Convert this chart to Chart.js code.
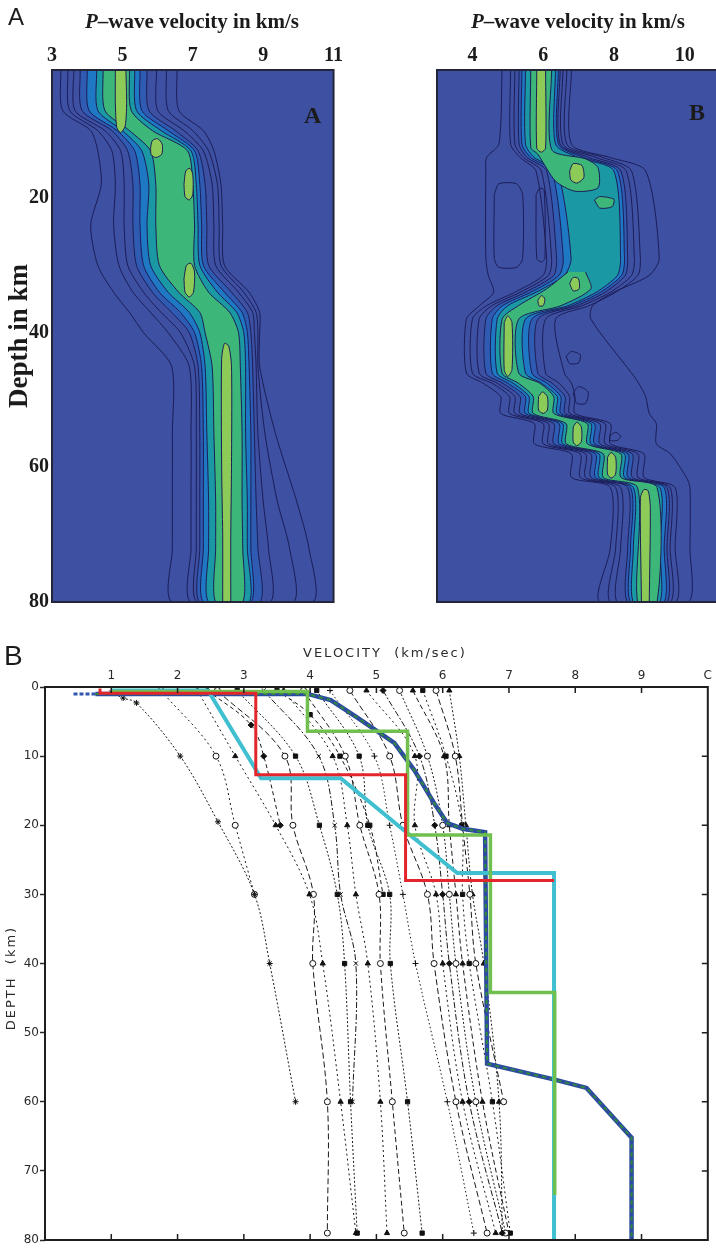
<!DOCTYPE html>
<html>
<head>
<meta charset="utf-8">
<script src="https://cdn.jsdelivr.net/npm/chart.js@4.4.1/dist/chart.umd.min.js"></script>
<style>
  html, body { margin: 0; padding: 0; overflow: hidden; background: #fff; }
  body { position: relative; width: 716px; height: 1249px; }
  canvas { position: absolute; }
  .t { position: absolute; white-space: pre; line-height: 1; color: #1b1b1b; }
  .serif { font-family: 'Liberation Serif', 'Times New Roman', serif; font-weight: bold; }
  .sans { font-family: 'Liberation Sans', Arial, sans-serif; }
  .plot { font-family: 'DejaVu Sans', sans-serif; font-size: 13px; letter-spacing: 2px; color: #2a2a2a; }
</style>
</head>
<body>
<canvas id="ca" width="345" height="617" style="left:0;top:0"></canvas>
<canvas id="cb" width="370" height="610" style="left:360px;top:0"></canvas>
<canvas id="cc" width="716" height="619" style="left:0;top:630px"></canvas>

<div class="t sans" style="left:8px;top:5px;font-size:24px">A</div>
<div class="t serif" style="left:42px;top:11px;width:300px;text-align:center;font-size:21px"><i>P</i>–wave velocity in km/s</div>
<div class="t serif" style="left:428px;top:11px;width:300px;text-align:center;font-size:21px"><i>P</i>–wave velocity in km/s</div>
<div class="t serif" style="left:18px;top:336px;font-size:27px;transform:translate(-50%,-50%) rotate(-90deg)">Depth in km</div>
<div class="t serif" style="left:304px;top:103px;font-size:24px">A</div>
<div class="t serif" style="left:689px;top:100px;font-size:24px">B</div>
<div class="t sans" style="left:4px;top:642px;font-size:28px">B</div>
<div class="t plot" style="left:303px;top:646px">VELOCITY  (km/sec)</div>
<div class="t plot" style="left:10px;top:978px;transform:translate(-50%,-50%) rotate(-90deg)">DEPTH  (km)</div>

<script>
// ---------- panel A : contour levels, velocity (km/s) read at listed depths (km) ----------
const depthA = [1, 7, 10, 13, 18, 24, 30, 34, 37, 40, 45, 55, 65, 72, 80];
const leftA = [
  [3.25, 3.3, 4.1, 4.3, 4.4, 4.1, 4.3, 4.75, 5.2, 5.6, 6.4, 6.42, 6.42, 6.42, 6.42],
  [3.45, 3.5, 4.3, 4.7, 4.8, 4.75, 4.9, 5.3, 5.8, 6.3, 6.9, 6.95, 6.95, 6.95, 6.95],
  [3.62, 3.65, 4.5, 4.95, 5.05, 5.05, 5.15, 5.6, 6.1, 6.65, 7.05, 7.1, 7.1, 7.1, 7.12],
  [3.8, 3.85, 4.7, 5.15, 5.3, 5.3, 5.4, 5.85, 6.4, 6.9, 7.15, 7.2, 7.2, 7.2, 7.2],
  [4.0, 4.05, 4.85, 5.35, 5.5, 5.5, 5.6, 6.05, 6.65, 7.05, 7.25, 7.3, 7.3, 7.3, 7.3],
  [4.27, 4.3, 5.0, 5.55, 5.75, 5.7, 5.8, 6.3, 6.9, 7.2, 7.35, 7.4, 7.45, 7.45, 7.45],
  [4.45, 4.5, 5.2, 5.8, 5.95, 5.95, 6.05, 6.6, 7.2, 7.35, 7.55, 7.6, 7.65, 7.65, 7.65]
];
const rightA = [
  [6.55, 6.6, 7.3, 7.6, 7.8, 7.85, 7.9, 8.6, 8.9, 8.9, 8.9, 9.35, 9.95, 10.3, 10.4],
  [6.25, 6.3, 7.0, 7.45, 7.7, 7.75, 7.8, 8.45, 8.8, 8.85, 8.85, 9.05, 9.4, 9.75, 9.85],
  [5.97, 6.0, 6.75, 7.3, 7.55, 7.6, 7.65, 8.3, 8.7, 8.75, 8.8, 8.85, 9.0, 9.15, 9.2],
  [5.7, 5.75, 6.5, 7.15, 7.35, 7.4, 7.45, 8.1, 8.55, 8.65, 8.7, 8.75, 8.8, 8.85, 8.9],
  [5.5, 5.55, 6.3, 7.05, 7.2, 7.25, 7.3, 7.9, 8.4, 8.55, 8.6, 8.65, 8.65, 8.65, 8.65],
  [5.35, 5.4, 6.1, 6.95, 7.1, 7.15, 7.2, 7.7, 8.25, 8.45, 8.5, 8.5, 8.55, 8.55, 8.6],
  [5.2, 5.25, 5.85, 6.85, 7.0, 7.05, 7.05, 7.45, 8.05, 8.3, 8.35, 8.4, 8.4, 8.42, 8.42]
];
// light green cores [velocity, depth]
const lightA = [
  [[4.8, 1], [4.8, 6], [4.84, 9.5], [4.95, 10.3], [5.08, 9.3], [5.12, 6], [5.1, 1]],
  [[5.8, 12.6], [5.85, 11.5], [6.0, 11.2], [6.13, 12], [6.12, 13.5], [5.95, 14], [5.82, 13.6], [5.8, 12.6]],
  [[6.75, 18], [6.8, 16], [6.92, 15.6], [7.0, 16.5], [7.0, 19.5], [6.9, 20.3], [6.78, 19.8], [6.75, 18]],
  [[6.75, 32], [6.82, 30], [6.95, 29.7], [7.05, 31], [7.02, 34], [6.9, 34.7], [6.78, 34], [6.75, 32]],
  [[7.85, 80], [7.85, 70], [7.82, 60], [7.82, 44], [7.9, 41.6], [8.02, 42], [8.1, 45], [8.1, 60], [8.08, 70], [8.08, 80]]
];

// ---------- panel A, right plot ----------
const depthB = [1, 12, 14, 16, 29, 31.5, 34, 36, 38, 46, 47.5, 49.5, 52, 53.5, 56.5, 58, 61.5, 63, 72, 80];
const leftB = [
  [4.84, 4.75, 4.4, 4.38, 4.38, 4.45, 4.6, 4.2, 3.83, 3.83, 4.3, 4.8, 4.8, 5.75, 5.75, 6.8, 6.8, 7.9, 7.9, 7.6],
  [5.08, 5.08, 5.35, 5.8, 6.1, 6.0, 5.2, 4.4, 4.0, 4.0, 4.55, 5.05, 5.05, 6.0, 6.0, 7.05, 7.05, 8.05, 8.05, 7.9],
  [5.2, 5.2, 5.45, 5.95, 6.24, 6.15, 5.35, 4.55, 4.19, 4.19, 4.7, 5.2, 5.2, 6.15, 6.15, 7.2, 7.2, 8.19, 8.19, 8.1],
  [5.32, 5.32, 5.55, 6.1, 6.38, 6.3, 5.5, 4.7, 4.38, 4.38, 4.85, 5.35, 5.35, 6.3, 6.3, 7.35, 7.35, 8.39, 8.39, 8.39],
  [5.4, 5.4, 5.65, 6.25, 6.57, 6.45, 5.65, 4.85, 4.56, 4.56, 5.0, 5.5, 5.5, 6.45, 6.45, 7.48, 7.48, 8.47, 8.47, 8.47],
  [5.5, 5.5, 5.75, 6.4, 6.79, 6.6, 5.8, 5.0, 4.7, 4.7, 5.15, 5.6, 5.6, 6.55, 6.55, 7.58, 7.58, 8.55, 8.55, 8.55]
];
const rightB = [
  [6.8, 6.8, 7.9, 8.9, 9.28, 9.0, 8.0, 7.4, 7.35, 8.5, 8.7, 8.9, 9.0, 9.2, 9.2, 9.6, 10.05, 10.15, 10.15, 10.1],
  [6.67, 6.67, 7.7, 8.5, 8.75, 8.68, 8.05, 7.3, 6.35, 6.6, 6.8, 6.9, 6.9, 7.9, 7.9, 8.85, 8.85, 9.73, 9.73, 9.75],
  [6.56, 6.56, 7.5, 8.35, 8.58, 8.5, 7.9, 7.1, 6.07, 6.07, 6.45, 6.75, 6.75, 7.75, 7.75, 8.68, 8.68, 9.59, 9.59, 9.6],
  [6.48, 6.48, 7.3, 8.2, 8.39, 8.32, 7.75, 6.95, 5.85, 5.85, 6.25, 6.62, 6.62, 7.6, 7.6, 8.52, 8.52, 9.5, 9.5, 9.5],
  [6.43, 6.43, 7.15, 8.1, 8.3, 8.22, 7.62, 6.82, 5.68, 5.68, 6.1, 6.5, 6.5, 7.45, 7.45, 8.4, 8.4, 9.42, 9.42, 9.42],
  [6.35, 6.35, 7.0, 8.0, 8.19, 8.1, 7.5, 6.7, 5.5, 5.5, 5.95, 6.4, 6.4, 7.35, 7.35, 8.3, 8.3, 9.3, 9.3, 9.3]
];
// green band below the wide teal zone
const depthGB = [31, 33.5, 36, 38, 46, 47.5, 49.5, 52, 53.5, 56.5, 58, 61.5, 63, 80];
const leftGB = [6.7, 6.1, 5.3, 4.84, 4.84, 5.3, 5.72, 5.72, 6.65, 6.65, 7.7, 7.7, 8.67, 8.67];
const rightGB = [7.2, 7.35, 6.5, 5.31, 5.31, 5.9, 6.3, 6.3, 7.25, 7.25, 8.2, 8.2, 9.22, 9.22];
const greenB = [
  [[5.65, 1], [5.65, 12.5], [5.85, 13.5], [6.35, 17.5], [6.9, 19], [7.55, 18.5], [7.55, 15.5], [7.2, 14.2], [6.24, 12.8], [6.24, 1]],
  [[7.45, 20.3], [7.6, 19.8], [8.0, 20.2], [7.95, 21.3], [7.6, 21.5], [7.45, 20.3]]
];
const lightB = [
  [[5.82, 1], [5.82, 12.6], [5.95, 13.2], [6.07, 12.6], [6.07, 1]],
  [[6.75, 16], [6.85, 14.9], [7.1, 15.2], [7.15, 17], [6.95, 17.8], [6.78, 17.3], [6.75, 16]],
  [[6.75, 32.7], [6.85, 31.8], [7.0, 32], [7.02, 33.5], [6.85, 33.8], [6.75, 32.7]],
  [[5.85, 35.2], [5.95, 34.5], [6.05, 35], [6.0, 36], [5.88, 36], [5.85, 35.2]],
  [[4.9, 38.5], [5.0, 37.5], [5.12, 38.5], [5.12, 45.5], [5.0, 46.5], [4.9, 45.5], [4.9, 38.5]],
  [[5.87, 49.5], [5.98, 48.8], [6.12, 49.5], [6.12, 51.5], [6.0, 52], [5.87, 51.5], [5.87, 49.5]],
  [[6.85, 54], [6.95, 53.3], [7.08, 54], [7.08, 56.2], [6.95, 56.8], [6.85, 56.2], [6.85, 54]],
  [[7.82, 58.5], [7.92, 57.8], [8.05, 58.5], [8.05, 61], [7.92, 61.6], [7.82, 61], [7.82, 58.5]],
  [[8.78, 80], [8.75, 64.5], [8.85, 63.3], [8.97, 63.5], [9.03, 66], [9.0, 80]]
];
// closed contour rings (lines only)
const ringsB = [
  [[4.62, 19.5], [4.75, 17.9], [5.25, 17.9], [5.42, 19.5], [5.42, 29], [5.25, 30.3], [4.75, 30.3], [4.62, 29], [4.62, 19.5]],
  [[5.8, 19.5], [5.9, 18.6], [6.03, 18.8], [6.05, 29], [5.95, 29.5], [5.82, 29], [5.8, 19.5]],
  [[6.65, 43.5], [6.8, 42.8], [7.05, 43.3], [7.0, 44.5], [6.75, 44.6], [6.65, 43.5]],
  [[6.85, 49], [7.0, 48], [7.27, 48.8], [7.2, 50.5], [6.95, 50.5], [6.85, 49]],
  [[7.88, 55.3], [8.05, 54.8], [8.19, 55.4], [8.1, 56], [7.9, 56], [7.88, 55.3]]
];
const xTicksA1 = [3, 5, 7, 9, 11];
const xTicksA2 = [4, 6, 8, 10];
const yTicksA = [20, 40, 60, 80];

// ---------- panel B : velocity-depth profiles ----------
const curveDepth = [
  [0.8, 1.6, 2.3, 10, 19.5, 30, 40, 60],
  [0.5, 10, 20, 30],
  [0.5, 5.5, 10, 20],
  [0.5, 10, 20, 30, 40, 60, 79],
  [0.5, 10, 20, 30, 40, 60, 79],
  [0.5, 10, 20, 30, 40, 60, 79],
  [0.5, 10, 20, 30, 40, 60],
  [0.5, 10, 20, 30, 40, 60, 79],
  [0.5, 10, 20, 30, 40, 60, 79],
  [0.5, 10, 20, 30, 40, 60, 79],
  [0.5, 10, 20, 30, 40, 60, 79],
  [0.5, 10, 20, 30, 40, 60, 79],
  [0.5, 10, 20, 30, 40, 60, 79],
  [0.5, 10, 20, 30, 40, 60, 79],
  [0.5, 10, 20, 30, 40, 60, 79],
  [0.5, 10, 20, 30, 40, 60, 79],
  [0.5, 10, 20, 30, 40, 60, 79],
  [0.5, 10, 20, 30, 40, 60],
  [0.5, 10, 20, 30, 40, 60, 79],
  [0.5, 4, 10, 20, 30]
];
const curveVel = [
  [1.0, 1.18, 1.38, 2.04, 2.61, 3.16, 3.39, 3.78],
  [1.75, 2.58, 2.87, 3.16],
  [2.45, 3.11, 3.3, 3.55],
  [2.3, 2.87, 3.48, 3.99, 4.19, 4.46, 4.69],
  [2.6, 3.62, 3.74, 4.05, 4.04, 4.26, 4.26],
  [2.9, 3.78, 4.14, 4.41, 4.52, 4.61, 4.71],
  [3.3, 4.13, 4.37, 4.46, 4.69, 4.64],
  [3.6, 4.34, 4.56, 4.69, 4.87, 5.06, 5.16],
  [3.9, 4.53, 4.75, 5.04, 5.06, 5.24, 5.42],
  [4.1, 4.74, 4.87, 5.2, 5.21, 5.47, 5.69],
  [4.3, 4.97, 5.2, 5.4, 5.59, 6.07, 6.47],
  [4.6, 5.2, 5.4, 5.77, 5.87, 6.2, 6.67],
  [4.85, 5.58, 5.58, 5.9, 6.0, 6.3, 6.8],
  [5.1, 5.65, 5.88, 6.0, 6.1, 6.4, 6.9],
  [5.35, 5.77, 6.0, 6.1, 6.2, 6.5, 6.95],
  [5.55, 6.02, 6.1, 6.2, 6.3, 6.6, 7.0],
  [5.7, 6.05, 6.29, 6.3, 6.4, 6.75, 7.02],
  [5.9, 6.19, 6.3, 6.41, 6.5, 6.92],
  [6.1, 6.25, 6.35, 6.45, 6.62, 6.85, 6.9],
  [3.5, 4.0, 4.45, 4.9, 5.1]
];
const curveMarker = ['star', 'circle', 'rectRot', 'triangle', 'circle', 'rect', 'crossRot', 'triangle', 'circle', 'rect',
  'cross', 'circle', 'triangle', 'rectRot', 'circle', 'triangle', 'rect', 'circle', 'triangle', 'rect'];
const curveDash = [[2, 2], [2, 3], [4, 3], [2, 3], [6, 3], [2, 2], [6, 2, 2, 2], [2, 3], [5, 3], [2, 2],
  [1.5, 2.5], [6, 3], [2, 3], [6, 2, 2, 2], [2, 2], [5, 3], [2, 3], [6, 3], [2, 2], [4, 3]];

const redVel = [0.83, 0.83, 3.18, 3.18, 5.44, 5.44, 7.68];
const redDepth = [0.2, 0.9, 0.9, 12.7, 12.7, 28, 28];
const greenVel = [1.0, 3.96, 3.96, 5.47, 5.47, 6.72, 6.72, 7.69, 7.69];
const greenDepth = [0.65, 0.65, 6.4, 6.4, 21.4, 21.4, 44.2, 44.2, 73.5];
const cyanVel = [1.0, 2.46, 3.26, 4.46, 5.36, 6.22, 7.68, 7.68];
const cyanDepth = [0.5, 0.5, 13.2, 13.2, 20.3, 26.9, 26.9, 80];
const blueVel = [0.76, 3.96, 4.31, 4.69, 5.27, 5.57, 5.87, 6.07, 6.3, 6.64, 6.67, 7.69, 8.17, 8.85, 8.85];
const blueDepth = [1.0, 1.0, 1.9, 4.3, 8.1, 12, 16.8, 19.7, 20.5, 21, 54.5, 56.8, 58, 65.2, 80];
const blueStartVel = [0.43, 0.76];
const blueStartDepth = [1.0, 1.0];

const velTickLabels = ['', '1', '2', '3', '4', '5', '6', '7', '8', '9', 'C'];
const innerVelTicks = [1, 2, 3, 4, 5, 6, 7, 8, 9];
const innerDepthTicks = [10, 20, 30, 40, 50, 60, 70];

// ---------- styles ----------
const lineDark = '#1c1d58';
const bgBlue = '#3d50a2';
const levelFill = [null, null, null, '#2f5cb2', '#1f78c3', '#1a98a3', '#3db67a'];
const lightGreen = '#8ccb58';
const serifBold = { family: "'Liberation Serif', 'Times New Roman', serif", size: 20, weight: 'bold' };
const plotter = { family: "'DejaVu Sans', sans-serif", size: 12 };

const plotBg = {
  id: 'plotBg',
  beforeDatasetsDraw(chart, args, o) {
    const a = chart.chartArea;
    chart.ctx.save();
    chart.ctx.fillStyle = o.color;
    chart.ctx.fillRect(a.left, a.top, a.right - a.left, a.bottom - a.top);
    chart.ctx.restore();
  }
};

const frame = {
  id: 'frame',
  afterDraw(chart, args, o) {
    const { ctx, chartArea: a, scales } = chart;
    ctx.save();
    ctx.strokeStyle = o.color;
    ctx.lineWidth = o.width;
    ctx.strokeRect(a.left, a.top, a.right - a.left, a.bottom - a.top);
    ctx.lineWidth = 1.5;
    ctx.beginPath();
    (o.xTicks || []).forEach(v => {
      const px = scales.x.getPixelForValue(v);
      ctx.moveTo(px, a.top); ctx.lineTo(px, a.top + 6);
      ctx.moveTo(px, a.bottom); ctx.lineTo(px, a.bottom - 6);
    });
    (o.yTicks || []).forEach(v => {
      const py = scales.y.getPixelForValue(v);
      ctx.moveTo(a.right, py); ctx.lineTo(a.right - 6, py);
    });
    ctx.stroke();
    ctx.restore();
  }
};

function band(depths, left, right) {
  const pts = depths.map((d, i) => ({ x: left[i], y: d }));
  for (let i = depths.length - 1; i >= 0; i--) pts.push({ x: right[i], y: depths[i] });
  return pts;
}
const pairs = list => list.map(p => ({ x: p[0], y: p[1] }));

function shape(data, fillColor, order) {
  return {
    data, order, showLine: true,
    fill: fillColor ? 'shape' : false,
    backgroundColor: fillColor || 'transparent',
    borderColor: lineDark, borderWidth: 1,
    pointRadius: 0, tension: 0.25
  };
}

function profile(vels, depths, color, width, order, dash) {
  return {
    data: vels.map((v, k) => ({ x: v, y: depths[k] })),
    showLine: true, borderColor: color, borderWidth: width, borderDash: dash || [],
    pointRadius: 0, tension: 0, order
  };
}

function contourChart(id, datasets, xTicks, showY, pad) {
  return new Chart(document.getElementById(id), {
    type: 'scatter',
    data: { datasets },
    options: {
      responsive: false, animation: false, events: [],
      layout: { padding: pad },
      plugins: {
        legend: { display: false }, tooltip: { enabled: false },
        plotBg: { color: bgBlue }, frame: { color: '#25253a', width: 2 }
      },
      scales: {
        x: {
          type: 'linear', position: 'top', min: 3, max: 11,
          afterBuildTicks: s => { s.ticks = xTicks.map(v => ({ value: v })); },
          afterFit: s => { s.height = 70; },
          ticks: { font: serifBold, color: '#1b1b1b', padding: 2 },
          grid: { display: false, drawTicks: false }, border: { display: false }
        },
        y: {
          type: 'linear', reverse: true, min: 1, max: 80, display: showY,
          afterBuildTicks: s => { s.ticks = yTicksA.map(v => ({ value: v })); },
          afterFit: s => { s.width = showY ? 52 : 0; },
          ticks: { font: serifBold, color: '#1b1b1b', padding: 3 },
          grid: { display: false, drawTicks: false }, border: { display: false }
        }
      }
    },
    plugins: [plotBg, frame]
  });
}

// left contour plot
const setsA = [];
leftA.forEach((l, i) => setsA.push(shape(band(depthA, l, rightA[i]), levelFill[i], 50 - i)));
lightA.forEach(p => setsA.push(shape(pairs(p), lightGreen, 10)));
contourChart('ca', setsA, xTicksA1, true, { left: 0, right: 10, top: 0, bottom: 0 });

// right contour plot
const setsB = [];
leftB.forEach((l, i) => setsB.push(shape(band(depthB, l, rightB[i]), levelFill[i], 50 - i)));
setsB.push(shape(band(depthGB, leftGB, rightGB), levelFill[6], 20));
greenB.forEach(p => setsB.push(shape(pairs(p), levelFill[6], 20)));
lightB.forEach(p => setsB.push(shape(pairs(p), lightGreen, 10)));
ringsB.forEach(p => setsB.push(shape(pairs(p), null, 5)));
contourChart('cb', setsB, xTicksA2, false, { left: 77, right: 10, top: 0, bottom: 8 });

// profiles panel
const setsC = [];
curveVel.forEach((vels, i) => setsC.push({
  data: vels.map((v, k) => ({ x: v, y: curveDepth[i][k] })),
  showLine: true, borderColor: '#1a1a1a', borderWidth: 1, borderDash: curveDash[i],
  pointStyle: curveMarker[i], pointRadius: 3, pointBorderColor: '#111', pointBorderWidth: 1,
  pointBackgroundColor: curveMarker[i] === 'circle' ? '#fff' : '#111',
  tension: 0.35, order: 20
}));
setsC.push(profile(blueStartVel, blueStartDepth, '#3056b0', 3, 6, [4, 2]));
setsC.push(profile(blueVel, blueDepth, '#2d4b9f', 4.5, 5));
setsC.push(profile(blueVel, blueDepth, '#2f8a3c', 2, 4, [4, 4]));
setsC.push(profile(cyanVel, cyanDepth, '#3fbfcf', 4, 3));
setsC.push(profile(greenVel, greenDepth, '#71c04f', 3.5, 2));
setsC.push(profile(redVel, redDepth, '#e3262b', 3, 1));

new Chart(document.getElementById('cc'), {
  type: 'scatter',
  data: { datasets: setsC },
  options: {
    responsive: false, animation: false, events: [],
    layout: { padding: { left: 0, right: 6, top: 0, bottom: 9 } },
    plugins: {
      legend: { display: false }, tooltip: { enabled: false },
      frame: { color: '#1e1e1e', width: 2, xTicks: innerVelTicks, yTicks: innerDepthTicks }
    },
    scales: {
      x: {
        type: 'linear', position: 'top', min: 0, max: 10,
        ticks: { stepSize: 1, callback: (v, i) => velTickLabels[i], font: plotter, color: '#2a2a2a', padding: 4 },
        grid: { display: false, drawTicks: false }, border: { display: false },
        afterFit: s => { s.height = 57; }
      },
      y: {
        type: 'linear', reverse: true, min: 0, max: 80,
        ticks: { stepSize: 10, font: plotter, color: '#2a2a2a', padding: 1 },
        grid: { drawOnChartArea: false, tickLength: 5, tickColor: '#2a2a2a', tickWidth: 1.5 },
        border: { display: false },
        afterFit: s => { s.width = 45; }
      }
    }
  },
  plugins: [frame]
});
</script>
</body>
</html>
